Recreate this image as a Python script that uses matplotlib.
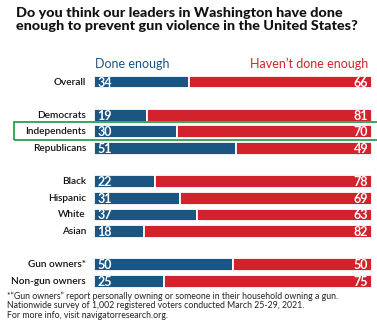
import matplotlib
matplotlib.use("Agg")
import matplotlib.pyplot as plt
import matplotlib.transforms as mtransforms
from matplotlib.patches import Rectangle

categories = ["Overall", "Democrats", "Independents", "Republicans",
              "Black", "Hispanic", "White", "Asian",
              "Gun owners*", "Non-gun owners"]
slots = [0, 2, 3, 4, 6, 7, 8, 9, 11, 12]
done_enough = [34, 19, 30, 51, 22, 31, 37, 18, 50, 25]
not_done = [66, 81, 70, 49, 78, 69, 63, 82, 50, 75]

BLUE = "#1b5683"
RED = "#d2222b"
GREEN = "#2e9e4f"
W, H = 377, 323

plt.rcParams['font.family'] = ['Lato', 'DejaVu Sans']
fig = plt.figure(figsize=(W / 100, H / 100), dpi=100)


def fx(px):
    return px / W


def fy(py):
    return 1 - py / H


top_px, bot_px = 73.7, 289.8
ax = fig.add_axes([fx(94), fy(bot_px), fx(372) - fx(94), fy(top_px) - fy(bot_px)])
ax.set_xlim(0, 100)
ax.set_ylim(12.5, -0.5)
ax.axis("off")

ax.barh(slots, done_enough, height=0.78, color=BLUE, edgecolor="white", linewidth=1.3)
ax.barh(slots, not_done, left=done_enough, height=0.78, color=RED, edgecolor="white", linewidth=1.3)

for s, d, n in zip(slots, done_enough, not_done):
    ax.text(1.3, s + 0.03, str(d), color="white", fontsize=9, fontweight="bold",
            ha="left", va="center")
    ax.text(98.6, s + 0.03, str(n), color="white", fontsize=9, fontweight="bold",
            ha="right", va="center")

trans = mtransforms.blended_transform_factory(fig.transFigure, ax.transData)
for s, c in zip(slots, categories):
    fig.text(fx(86), s, c, fontsize=7.2, ha="right", va="center", fontweight="semibold",
             color="#111111", transform=trans)

fig.text(fx(16), fy(19.5), "Do you think our leaders in Washington have done\nenough to prevent gun violence in the United States?",
         fontsize=10.4, fontweight="black", ha="left", va="center", color="#111111",
         linespacing=1.12)

fig.text(fx(95), fy(64), "Done enough", fontsize=9, color=BLUE, ha="left", va="center")
fig.text(fx(368), fy(64), "Haven\u2019t done enough", fontsize=9, color=RED, ha="right", va="center")

# green highlight box around Independents
rect = Rectangle((fx(14), fy(139.5)), 1.2, fy(122.5) - fy(139.5), transform=fig.transFigure,
                 fill=False, edgecolor=GREEN, linewidth=1.3, clip_on=False)
fig.add_artist(rect)

fig.text(fx(7), fy(305.5), "*\u201cGun owners\u201d report personally owning or someone in their household owning a gun.\n"
         "Nationwide survey of 1,002 registered voters conducted March 25-29, 2021.\n"
         "For more info, visit navigatorresearch.org.",
         fontsize=6.3, ha="left", va="center", color="#222222", linespacing=1.05)

fig.savefig("out.png", dpi=100)
